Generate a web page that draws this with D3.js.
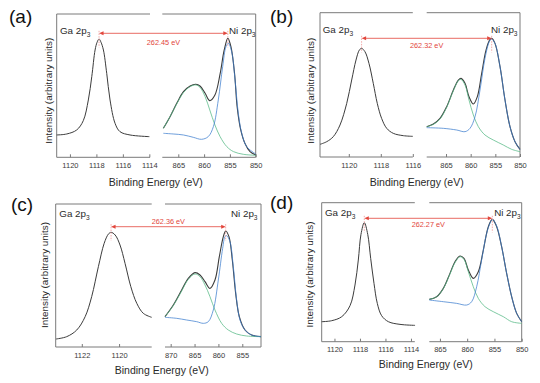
<!DOCTYPE html>
<html><head><meta charset="utf-8">
<script src="https://cdn.jsdelivr.net/npm/d3@7"></script>
<style>
body{margin:0;background:#fff}
svg{display:block}
text{font-family:"Liberation Sans",Arial,Helvetica,sans-serif}
</style>
</head><body>
<svg id="chart" width="540" height="383"></svg>
<script>
// ---------- data (binding energy eV, intensity a.u.) ----------
const panelLetters = ["(a)", "(b)", "(c)", "(d)"];
const separationLabels = ["262.45 eV", "262.32 eV", "262.36 eV", "262.27 eV"];
const gaTickValues = [[1120,1118,1116,1114],[1120,1118,1116],[1122,1120],[1120,1118,1116,1114]];
const niTickValues = [[865,860,855,850],[865,860,855,850],[870,865,860,855],[865,860,855,850]];
const gaDomains = [[1121.0,1113.95],[1121.8,1116.0],[1123.4,1118.25],[1121.0,1113.7]];
const niDomains = [[868.1,850.0],[868.92,850.0],[871.19,851.08],[866.95,850.0]];
const intensityMax = [430, 433, 429, 417];
const gaPeaks = [1117.80, 1119.20, 1120.43, 1117.66];
const niPeaks = [855.40, 855.74, 858.48, 855.39];

const gaA = [[1121.0,67],[1120.24,70],[1119.49,82],[1118.99,110],[1118.61,172],[1118.35,242],[1118.10,322],[1117.95,345],[1117.80,355],[1117.65,345],[1117.47,322],[1117.22,252],[1116.97,172],[1116.59,102],[1116.22,77],[1115.46,67],[1114.0,62]];
const niEnvA = [[867.9,87],[866.6,122],[865.3,162],[864.0,197],[862.7,214],[861.6,219],[860.8,214],[859.8,192],[858.9,170],[857.9,187],[856.9,250],[856.1,322],[855.4,357],[854.8,332],[854.1,252],[853.6,152],[852.9,82],[852.1,42],[851.1,17],[850.0,7]];
const niBlueA = [[867.9,72],[866.0,70],[864.0,67],[862.1,60],[860.5,54],[859.2,62],[858.2,92],[857.25,172],[856.4,272],[855.76,332],[855.3,342],[854.66,317],[854.0,232],[853.37,132],[852.7,72],[851.75,32],[850.0,10]];
const niGreenA = [[867.9,87],[866.6,122],[865.3,160],[864.0,194],[862.7,212],[861.6,217],[860.8,210],[859.8,182],[858.9,142],[857.9,97],[856.9,62],[855.6,32],[854.3,17],[852.4,9],[850.0,6]];

const gaB = [[1121.8,38],[1121.38,46],[1120.97,61],[1120.55,96],[1120.13,161],[1119.82,231],[1119.55,291],[1119.34,321],[1119.20,326],[1118.99,316],[1118.74,281],[1118.47,221],[1118.22,161],[1117.95,116],[1117.63,86],[1117.22,71],[1116.59,64],[1116.0,62]];
const niEnvB = [[868.92,91],[867.57,99],[866.22,116],[864.87,151],[863.51,201],[862.50,231],[861.96,236],[861.15,221],[860.34,181],[859.46,159],[858.65,181],[857.77,251],[856.89,321],[856.08,353],[855.74,356],[855.07,341],[854.05,271],[853.04,171],[852.03,91],[851.01,46],[850.0,23]];
const niBlueB = [[868.92,88],[865.54,86],[862.84,81],[861.15,76],[860.14,86],[859.12,121],[858.11,201],[857.10,296],[856.22,346],[855.74,354],[855.07,341],[854.05,271],[853.04,171],[852.03,91],[851.01,46],[850.0,23]];
const niGreenB = [[868.92,91],[867.57,98],[866.22,114],[864.87,149],[863.51,199],[862.50,229],[861.96,233],[861.15,216],[860.34,171],[859.46,126],[858.45,91],[857.10,66],[855.41,51],[853.38,36],[851.69,23],[850.0,16]];

const gaC = [[1123.38,24],[1122.81,31],[1122.27,51],[1121.82,91],[1121.47,151],[1121.11,241],[1120.80,311],[1120.57,339],[1120.43,344],[1120.21,336],[1119.95,306],[1119.68,251],[1119.37,181],[1119.05,131],[1118.70,101],[1118.25,89]];
const niEnvC = [[871.19,91],[869.45,126],[867.70,171],[866.31,206],[864.91,223],[863.86,216],[862.81,196],[861.77,176],[860.72,201],[859.81,271],[858.97,331],[858.48,348],[857.79,331],[857.09,261],[856.39,161],[855.62,91],[854.43,51],[853.04,36],[851.08,31]];
const niBlueC = [[871.19,89],[868.75,86],[866.65,81],[864.56,76],[863.16,71],[862.12,76],[861.07,111],[860.02,201],[859.11,296],[858.62,331],[858.27,334],[857.58,316],[856.88,241],[856.18,141],[855.48,81],[854.43,51],[853.04,36],[851.08,31]];
const niGreenC = [[871.19,91],[869.45,124],[867.70,168],[866.31,203],[864.91,219],[863.86,211],[862.81,186],[861.77,151],[860.72,111],[859.32,71],[857.93,51],[856.18,39],[854.08,33],[851.08,31]];

const gaD = [[1121.0,60],[1120.22,63],[1119.43,75],[1118.78,108],[1118.39,170],[1118.13,245],[1117.92,322],[1117.66,357],[1117.39,322],[1117.16,250],[1116.90,175],[1116.64,115],[1116.30,78],[1115.77,60],[1114.86,52],[1113.68,49]];
const niEnvD = [[866.95,127],[865.60,135],[864.38,160],[863.16,205],[862.24,240],[861.32,257],[860.59,250],[859.79,215],[858.88,190],[857.96,210],[857.04,275],[856.12,345],[855.39,367],[854.59,345],[853.68,285],[852.76,205],[851.84,135],[850.92,85],[850.0,60]];
const niBlueD = [[866.95,125],[864.38,120],[861.93,115],[860.10,110],[859.18,120],[858.26,165],[857.35,245],[856.43,325],[855.69,360],[855.33,367],[854.59,347],[853.68,285],[852.76,205],[851.84,135],[850.92,85],[850.0,60]];
const niGreenD = [[866.95,127],[865.60,135],[864.38,159],[863.16,203],[862.24,237],[861.32,255],[860.59,247],[859.79,210],[858.88,165],[857.96,130],[856.73,105],[855.21,90],[853.37,75],[851.84,60],[850.0,55]];

const gaSeries = [gaA, gaB, gaC, gaD];
const envSeries = [niEnvA, niEnvB, niEnvC, niEnvD];
const blueSeries = [niBlueA, niBlueB, niBlueC, niBlueD];
const greenSeries = [niGreenA, niGreenB, niGreenC, niGreenD];

// ---------- layout (pixels) ----------
const layout = [
  {ga:[56.7,150], ni:[162.3,255.7], y:[157.3,14], letter:[9,23], gaLab:[60,34], niLab:[255.5,34], arrowY:33.3, sepY:45, yLab:[48,90.7], xLab:[155.8,185.5]},
  {ga:[320,412.8], ni:[426.7,520], y:[157,12.7], letter:[270,23], gaLab:[322.7,33], niLab:[517.5,33], arrowY:38.3, sepY:48, yLab:[310,90.7], xLab:[416.7,185.5]},
  {ga:[55.7,151.7], ni:[165,261], y:[347,204], letter:[11,211], gaLab:[59.3,217], niLab:[257.5,217], arrowY:226.7, sepY:223.8, yLab:[44,275], xLab:[161.7,374]},
  {ga:[321.7,414.8], ni:[429.3,521.7], y:[341.7,202.7], letter:[270,209], gaLab:[325,216], niLab:[520.7,216], arrowY:218.3, sepY:227, yLab:[309.5,274.5], xLab:[425.8,368]}
];

const COLORS = {frame:"#7a7a7a", text:"#2a2a2a", env:"#3c3c3c", blue:"#3f7fcf", green:"#54b884", red:"#e2463c", redLight:"#f0a0a0"};

const svg = d3.select("#chart");

panelLetters.forEach((letter, i) => {
  const L = layout[i];
  const g = svg.append("g");
  const xGa = d3.scaleLinear().domain(gaDomains[i]).range(L.ga);
  const xNi = d3.scaleLinear().domain(niDomains[i]).range(L.ni);
  const y = d3.scaleLinear().domain([0, intensityMax[i]]).range(L.y);
  const B = L.y[0], T = L.y[1];

  // frame (broken axis box)
  const frame = [
    [L.ga[0], T, L.ga[1], T], [L.ga[0], B, L.ga[1], B], [L.ga[0], T, L.ga[0], B],
    [L.ni[0], T, L.ni[1], T], [L.ni[0], B, L.ni[1], B], [L.ni[1], T, L.ni[1], B]
  ];
  g.selectAll("line.frame").data(frame).join("line").attr("class","frame")
    .attr("x1", d=>d[0]).attr("y1", d=>d[1]).attr("x2", d=>d[2]).attr("y2", d=>d[3])
    .attr("stroke", COLORS.frame).attr("stroke-width", 1);

  // axes
  const mkAxis = (scale, ticks) => d3.axisBottom(scale).tickValues(ticks).tickSizeInner(-3).tickSizeOuter(0).tickPadding(5.3).tickFormat(d3.format("d"));
  [[xGa, gaTickValues[i]], [xNi, niTickValues[i]]].forEach(([sc, tv]) => {
    const ax = g.append("g").attr("transform", `translate(0,${B})`).call(mkAxis(sc, tv));
    ax.select(".domain").remove();
    ax.selectAll(".tick line").attr("stroke", COLORS.frame);
    ax.selectAll(".tick text").attr("fill", "#3a3a3a").style("font-size", "7.5px").style("font-family", "'Liberation Sans', Arial, sans-serif");
  });

  const lineGa = d3.line().x(d=>xGa(d[0])).y(d=>y(d[1])).curve(d3.curveCatmullRom.alpha(0.5));
  const lineNi = d3.line().x(d=>xNi(d[0])).y(d=>y(d[1])).curve(d3.curveCatmullRom.alpha(0.5));

  g.append("path").attr("d", lineGa(gaSeries[i])).attr("fill","none").attr("stroke", COLORS.env).attr("stroke-width", 1);
  g.append("path").attr("d", lineNi(envSeries[i])).attr("fill","none").attr("stroke", COLORS.env).attr("stroke-width", 1.1);
  g.append("path").attr("d", lineNi(greenSeries[i])).attr("fill","none").attr("stroke", COLORS.green).attr("stroke-width", 1).attr("stroke-opacity", 0.75);
  g.append("path").attr("d", lineNi(blueSeries[i])).attr("fill","none").attr("stroke", COLORS.blue).attr("stroke-width", 1).attr("stroke-opacity", 0.75);

  // separation arrow
  const xa = xGa(gaPeaks[i]), xb = xNi(niPeaks[i]), ay = L.arrowY;
  [xa, xb].forEach(xx => {
    g.append("line").attr("x1", xx).attr("x2", xx).attr("y1", ay-2.5).attr("y2", ay+14)
      .attr("stroke", COLORS.redLight).attr("stroke-width", 0.9).attr("stroke-dasharray", "1.5,1.2");
  });
  g.append("line").attr("x1", xa+3).attr("x2", xb-3).attr("y1", ay).attr("y2", ay)
    .attr("stroke", COLORS.red).attr("stroke-width", 0.8);
  g.append("path").attr("d", `M${xa},${ay}L${xa+4.5},${ay-2}L${xa+4.5},${ay+2}Z`).attr("fill", COLORS.red);
  g.append("path").attr("d", `M${xb},${ay}L${xb-4.5},${ay-2}L${xb-4.5},${ay+2}Z`).attr("fill", COLORS.red);
  g.append("text").attr("x", (xa+xb)/2).attr("y", L.sepY).attr("text-anchor","middle")
    .attr("fill", COLORS.red).style("font-size","7.3px").text(separationLabels[i]);

  // peak labels
  const gl = g.append("text").attr("x", L.gaLab[0]).attr("y", L.gaLab[1]).attr("fill", COLORS.text).style("font-size","9.8px");
  gl.append("tspan").text("Ga 2p");
  gl.append("tspan").attr("dy", 2.6).style("font-size","6.6px").text("3");
  const nl = g.append("text").attr("x", L.niLab[0]).attr("y", L.niLab[1]).attr("text-anchor","end").attr("fill", COLORS.text).style("font-size","9.8px");
  nl.append("tspan").text("Ni 2p");
  nl.append("tspan").attr("dy", 2.6).style("font-size","6.6px").text("3");

  // panel letter
  g.append("text").attr("x", L.letter[0]).attr("y", L.letter[1]).attr("fill", "#111").style("font-size","19px").text(letter);

  // axis titles
  g.append("text").attr("transform", `translate(${L.yLab[0]},${L.yLab[1]}) rotate(-90)`)
    .attr("text-anchor","middle").attr("dominant-baseline","central").attr("fill", COLORS.text)
    .style("font-size","9.9px").text("Intensity (arbitrary units)");
  g.append("text").attr("x", L.xLab[0]).attr("y", L.xLab[1]).attr("text-anchor","middle").attr("fill", COLORS.text)
    .style("font-size","10.5px").text("Binding Energy (eV)");
});
</script>
</body></html>
